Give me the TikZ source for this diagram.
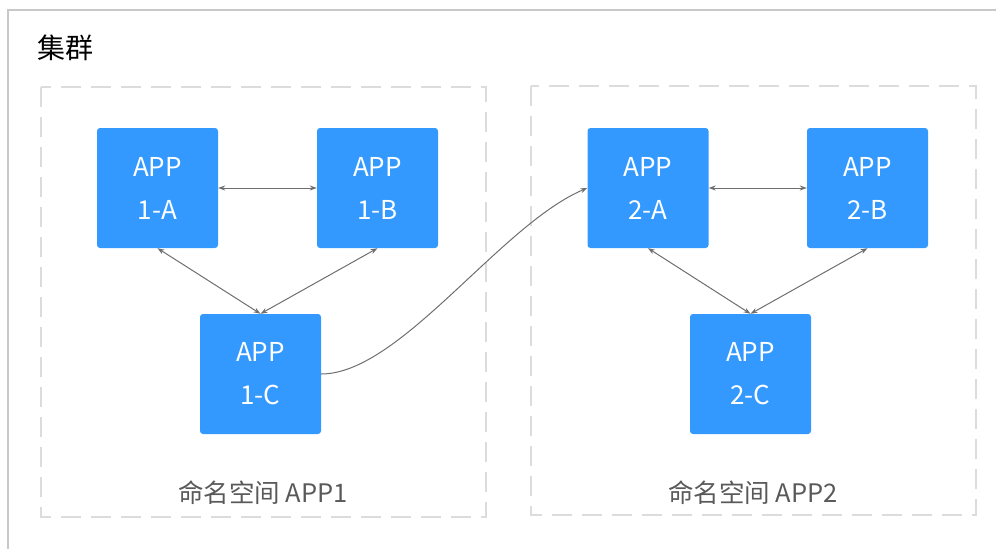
\documentclass[tikz,border=0pt]{standalone}
\usepackage{fontspec}
\setmainfont{Noto Sans CJK SC}
\usetikzlibrary{arrows.meta}
\definecolor{appblue}{HTML}{3399FF}
\definecolor{dashgray}{HTML}{DCDCDC}
\definecolor{framegray}{HTML}{C8C8C8}
\definecolor{linkgray}{HTML}{6E6E6E}
\definecolor{labelgray}{HTML}{595959}
\tikzset{
  appbox/.style={rectangle, rounded corners=3pt, fill=appblue, draw=none,
    minimum width=121pt, minimum height=120pt, inner sep=0pt,
    text=white, align=center, font=\fontsize{26}{43}\selectfont},
  nsbox/.style={draw=dashgray, line width=2pt, dash pattern=on 20pt off 10pt},
  link/.style={draw=linkgray, line width=1pt, {Stealth[length=7pt,width=5pt]}-{Stealth[length=7pt,width=5pt]}},
  onelink/.style={draw=linkgray, line width=1pt, -{Stealth[length=7pt,width=5pt]}},
  nslabel/.style={text=labelgray, font=\fontsize{25.5}{30}\selectfont},
}
\begin{document}
\begin{tikzpicture}[x=1pt,y=-1pt]
\useasboundingbox (0,0) rectangle (996,549);
\draw[framegray, line width=1.5pt] (8,549) -- (8,10) -- (996,10);
\node[anchor=west, font=\fontsize{28}{32}\selectfont, text=black, inner sep=0pt] (title) at (37,48) {集群};
\draw[nsbox] (41,87) rectangle (486,517);
\draw[nsbox] (531,86) rectangle (976,515);
\node[appbox] (a1) at (157.5,188) {APP\\1-A};
\node[appbox] (b1) at (377.5,188) {APP\\1-B};
\node[appbox] (c1) at (260.5,374) {APP\\1-C};
\node[appbox] (a2) at (648,188) {APP\\2-A};
\node[appbox] (b2) at (867.5,188) {APP\\2-B};
\node[appbox] (c2) at (750.5,374) {APP\\2-C};
\node[nslabel] (l1) at (263,493) {命名空间 APP1};
\node[nslabel] (l2) at (753,493) {命名空间 APP2};
\draw[link] (a1) -- (b1);
\draw[link] (a1.south) -- (c1.north);
\draw[link] (b1.south) -- (c1.north);
\draw[link] (a2) -- (b2);
\draw[link] (a2.south) -- (c2.north);
\draw[link] (b2.south) -- (c2.north);
\draw[onelink] (c1.east) .. controls (400,374) and (500,225) .. (a2.west);
\end{tikzpicture}
\end{document}
